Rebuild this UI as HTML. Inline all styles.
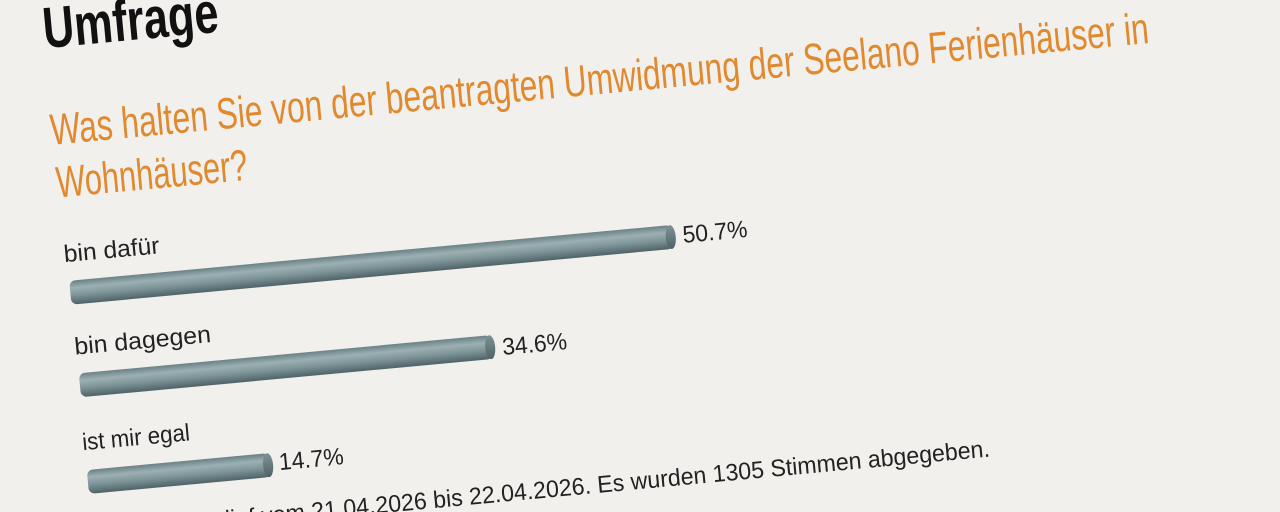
<!DOCTYPE html>
<html><head><meta charset="utf-8"><style>
html,body{margin:0;padding:0;width:1280px;height:512px;overflow:hidden;background:#f1f0ec;}
svg{display:block}
</style></head><body>
<svg width="1280" height="512" viewBox="0 0 1280 512" xmlns="http://www.w3.org/2000/svg">
<defs>
<linearGradient id="bg" x1="0" y1="0" x2="0" y2="1">
<stop offset="0" stop-color="#6a8185"/>
<stop offset="0.3" stop-color="#9cb0b3"/>
<stop offset="0.6" stop-color="#7e9599"/>
<stop offset="1" stop-color="#4f6367"/>
</linearGradient>
<linearGradient id="cap" x1="0" y1="0" x2="0" y2="1">
<stop offset="0" stop-color="#7e9397"/>
<stop offset="1" stop-color="#4f6266"/>
</linearGradient>
</defs>
<rect width="1280" height="512" fill="#f1f0ec"/>
<g transform="rotate(-5.3)" font-family="'Liberation Sans', 'DejaVu Sans', sans-serif">
<text x="40" y="52" font-size="58" font-weight="bold" fill="#111" textLength="176" lengthAdjust="spacingAndGlyphs">Umfrage</text>
<text x="38" y="149" font-size="44" fill="#e0892f" textLength="1103" lengthAdjust="spacingAndGlyphs">Was halten Sie von der beantragten Umwidmung der Seelano Ferienhäuser in</text>
<text x="39" y="202" font-size="44" fill="#e0892f" textLength="192" lengthAdjust="spacingAndGlyphs">Wohnhäuser?</text>

<text x="40" y="267" font-size="24" fill="#222" textLength="96" lengthAdjust="spacingAndGlyphs">bin dafür</text>
<rect x="43" y="286" width="605" height="24" rx="6" fill="url(#bg)"/>
<ellipse cx="646" cy="298" rx="5" ry="12" fill="url(#cap)"/>
<text x="658" y="305" font-size="24" fill="#222" textLength="65" lengthAdjust="spacingAndGlyphs">50.7%</text>

<text x="42" y="360" font-size="24" fill="#222" textLength="137" lengthAdjust="spacingAndGlyphs">bin dagegen</text>
<rect x="44" y="379" width="414" height="24" rx="6" fill="url(#bg)"/>
<ellipse cx="456" cy="391" rx="5" ry="12" fill="url(#cap)"/>
<text x="468" y="400" font-size="24" fill="#222" textLength="65" lengthAdjust="spacingAndGlyphs">34.6%</text>

<text x="41" y="456" font-size="24" fill="#222" textLength="108" lengthAdjust="spacingAndGlyphs">ist mir egal</text>
<rect x="43" y="476" width="183" height="24" rx="6" fill="url(#bg)"/>
<ellipse cx="224" cy="488" rx="5" ry="12" fill="url(#cap)"/>
<text x="235" y="494" font-size="24" fill="#222" textLength="65" lengthAdjust="spacingAndGlyphs">14.7%</text>

<text x="40" y="546" font-size="24" fill="#222" textLength="904" lengthAdjust="spacingAndGlyphs">Die Umfrage lief vom 21.04.2026 bis 22.04.2026. Es wurden 1305 Stimmen abgegeben.</text>
</g>
</svg>
</body></html>
